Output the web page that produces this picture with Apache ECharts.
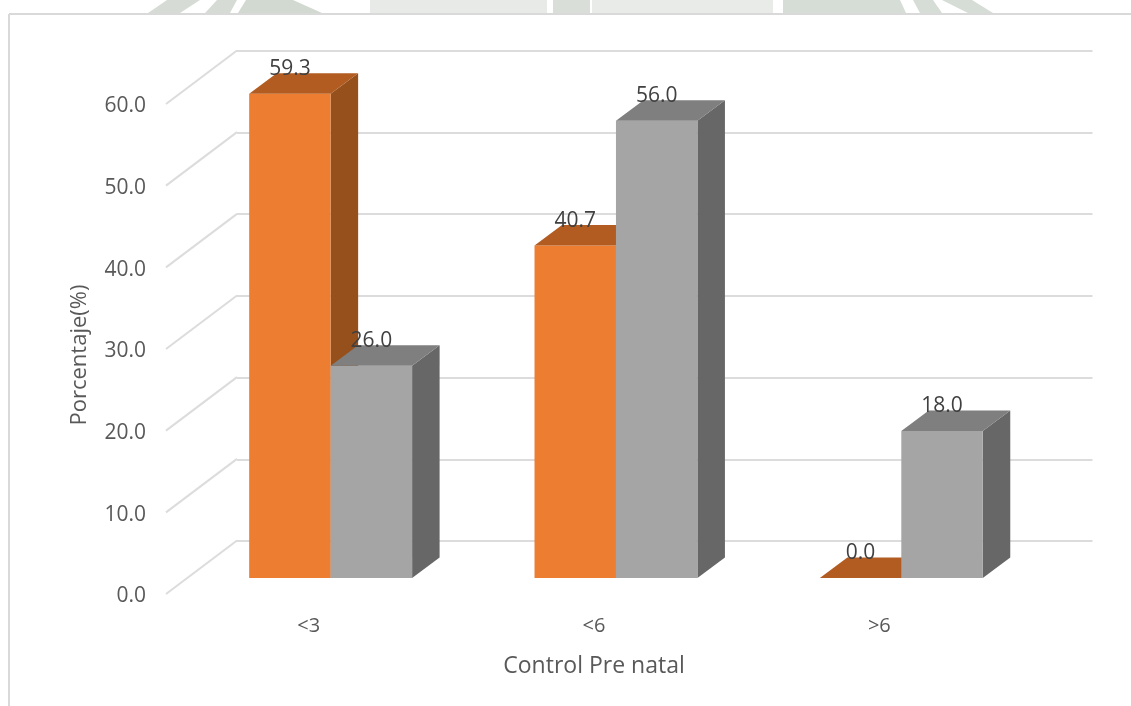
<!DOCTYPE html>
<html>
<head>
<meta charset="utf-8">
<style>html,body{margin:0;padding:0;background:#fff}#c{width:1131px;height:706px}</style>
<script src="https://cdn.jsdelivr.net/npm/echarts@6/dist/echarts.min.js"></script>
</head>
<body>
<div id="c"></div>
<script>
var categories = ['<3', '<6', '>6'];
var orangeValues = [59.3, 40.7, 0.0];
var grayValues = [26.0, 56.0, 18.0];
var yTicks = [0, 10, 20, 30, 40, 50, 60];

var FONT = '"Open Sans", sans-serif';
var chart = echarts.init(document.getElementById('c'), null, {renderer: 'canvas'});

function barSeries(name, values, side, front, top, rightFace) {
  return {
    name: name, type: 'custom', xAxisIndex: 0, yAxisIndex: 0, z: side < 0 ? 5 : 6,
    data: values.map(function (v, i) { return [i, v]; }),
    clip: false,
    renderItem: function (params, api) {
      var p = api.coord([api.value(0), api.value(1)]);
      var b = api.coord([api.value(0), 0]);
      var band = api.size([1, 0])[0];
      var w = band * 0.2855, dx = 27.5, dy = 20.5;
      var ox = band * 0.077, oy = -16;
      var x0 = p[0] + ox + (side < 0 ? -w : 0), x1 = x0 + w;
      var yt = p[1] + oy, yb = b[1] + oy;
      var kids = [];
      if (yb - yt > 0.5) {
        kids.push({type: 'polygon', shape: {points: [[x1, yb], [x1 + dx, yb - dy], [x1 + dx, yt - dy], [x1, yt]]}, style: {fill: rightFace}});
        kids.push({type: 'rect', shape: {x: x0, y: yt, width: w, height: yb - yt}, style: {fill: front}});
      }
      kids.push({type: 'polygon', shape: {points: [[x0, yt], [x0 + dx, yt - dy], [x1 + dx, yt - dy], [x1, yt]]}, style: {fill: top}});
      kids.push({
        type: 'text', z2: 10, silent: true,
        style: {x: (x0 + x1) / 2, y: yt - 25, text: api.value(1).toFixed(1), align: 'center', verticalAlign: 'middle',
                 font: '21px ' + FONT, fill: '#404040'}
      });
      return {type: 'group', children: kids};
    }
  };
}

function strip(points, fill) {
  return {type: 'polygon', silent: true, z: -1, shape: {points: points}, style: {fill: fill}};
}

var option = {
  animation: false,
  backgroundColor: '#fff',
  grid: [
    {left: 166, top: 104, width: 856, height: 490},
    {left: 237, top: 50.5, width: 855.5, height: 490.5}
  ],
  xAxis: [
    {type: 'category', gridIndex: 0, data: categories,
     axisLine: {show: false}, axisTick: {show: false},
     axisLabel: {color: '#595959', fontFamily: FONT, fontSize: 20, margin: 22},
     name: 'Control Pre natal', nameLocation: 'middle', nameGap: 61,
     nameTextStyle: {color: '#595959', fontFamily: FONT, fontSize: 23}},
    {type: 'value', gridIndex: 1, min: 0, max: 1, show: false}
  ],
  yAxis: [
    {type: 'value', gridIndex: 0, min: 0, max: 60, interval: 10,
     axisLine: {show: false}, axisTick: {show: false}, splitLine: {show: false},
     axisLabel: {color: '#595959', fontFamily: FONT, fontSize: 21, margin: 20, verticalAlign: 'top', lineHeight: 21,
                 padding: [-8, 0, 0, 0], formatter: function (v) { return v.toFixed(1); }},
     name: 'Porcentaje(%)', nameLocation: 'middle', nameGap: 75, nameRotate: 90,
     nameTextStyle: {color: '#595959', fontFamily: FONT, fontSize: 22, padding: [0, 12, 0, 0]}},
    {type: 'value', gridIndex: 1, min: 0, max: 60, interval: 10,
     axisLine: {show: false}, axisTick: {show: false}, axisLabel: {show: false},
     splitLine: {show: true, lineStyle: {color: '#dcdcdc', width: 2}}}
  ],
  series: [
    {
      name: 'wall', type: 'custom', xAxisIndex: 0, yAxisIndex: 0, z: 1, clip: false, silent: true,
      data: yTicks.map(function (t) { return [0, t]; }),
      renderItem: function (params, api) {
        var p = api.coord([0, api.value(1)]);
        var band = api.size([1, 0])[0];
        var x = p[0] - band / 2;
        return {type: 'line', shape: {x1: x, y1: p[1], x2: x + 71, y2: p[1] - 53.5},
                style: {stroke: '#dcdcdc', lineWidth: 2, fill: null}};
      }
    },
    barSeries('a', orangeValues, -1, '#ed7d31', '#b35c22', '#96501c'),
    barSeries('b', grayValues, 1, '#a5a5a5', '#7f7f7f', '#676767')
  ],
  graphic: [
    strip([[148, 13], [167, 0], [200, 0], [180, 13]], '#d6dcd5'),
    strip([[205, 13], [217, 0], [237, 0], [230, 13]], '#d6dcd5'),
    strip([[238, 13], [246, 0], [293, 0], [322, 13]], '#d2d9d0'),
    strip([[370, 13], [370, 0], [547, 0], [547, 13]], '#e7eae6'),
    strip([[553, 13], [553, 0], [590, 0], [590, 13]], '#d9ded8'),
    strip([[592, 13], [592, 0], [773, 0], [773, 13]], '#e8ebe7'),
    strip([[783, 13], [783, 0], [900, 0], [906, 13]], '#d6dcd6'),
    strip([[913, 0], [933, 0], [942, 13], [920, 13]], '#d6dcd6'),
    strip([[942, 0], [972, 0], [993, 13], [968, 13]], '#d6dcd6'),
    {type: 'line', silent: true, shape: {x1: 9, y1: 14, x2: 1131, y2: 14}, style: {stroke: '#d9d9d9', lineWidth: 2}},
    {type: 'line', silent: true, shape: {x1: 9, y1: 14, x2: 9, y2: 706}, style: {stroke: '#d9d9d9', lineWidth: 2}}
  ]
};
chart.setOption(option);
</script>
</body>
</html>
